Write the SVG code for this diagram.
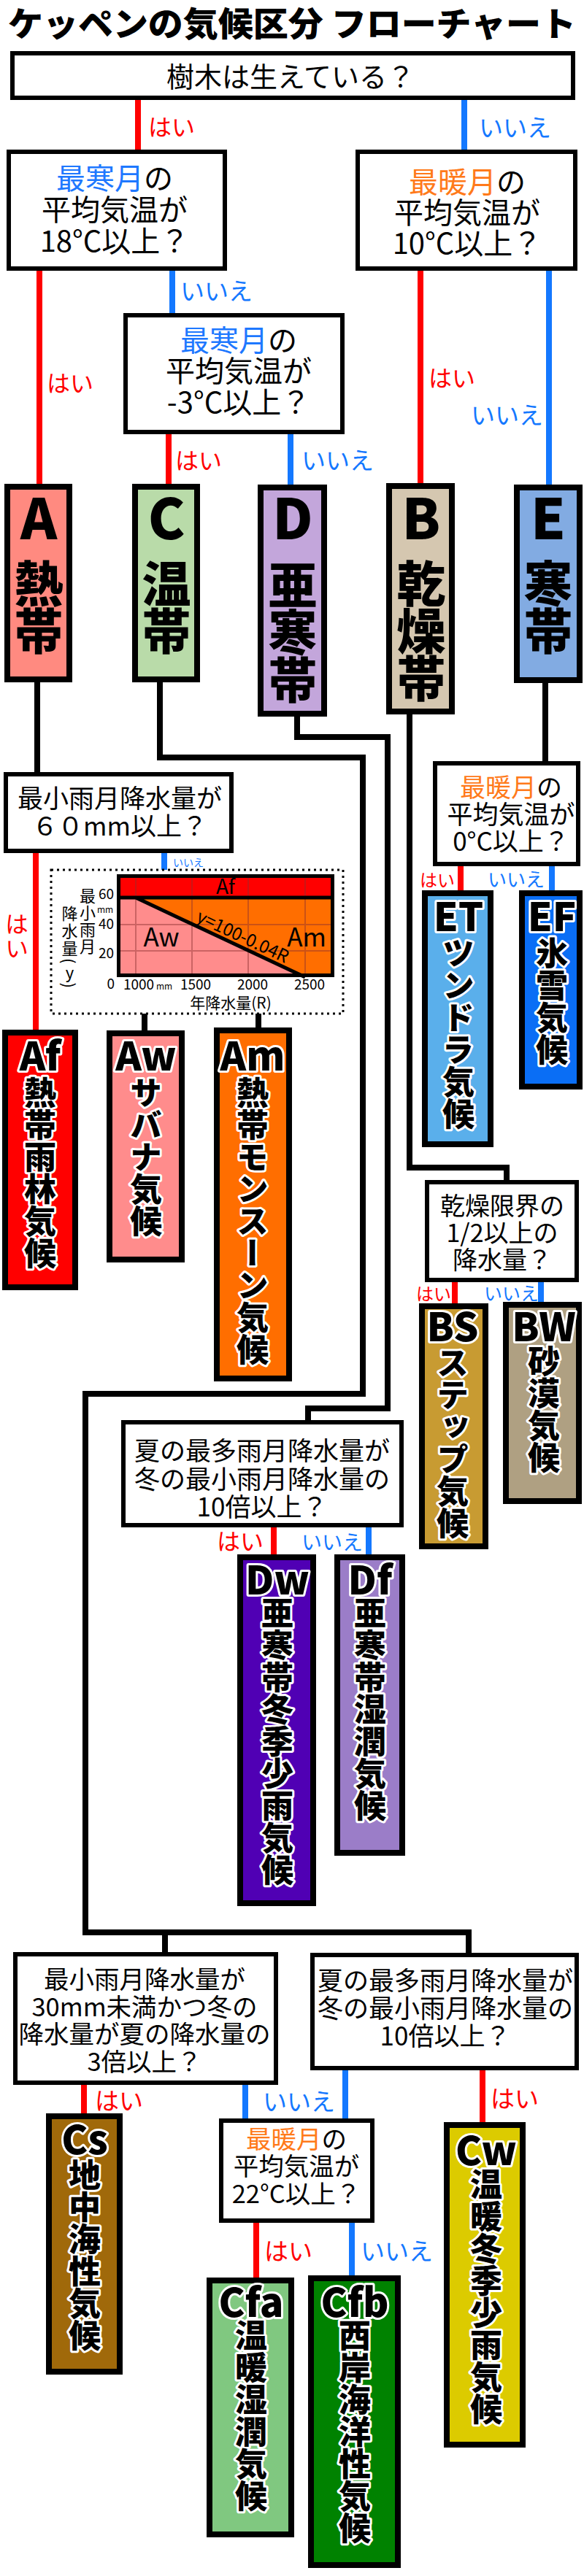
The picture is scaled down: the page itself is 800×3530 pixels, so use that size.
<svg xmlns="http://www.w3.org/2000/svg" width="800" height="3530" viewBox="0 0 800 3530">
<style>
text{font-family:"Noto Sans CJK JP","Noto Sans CJK SC",sans-serif;fill:#000}
.title{font-size:46px;font-weight:900}
.qb{fill:#fff;stroke:#000;stroke-width:6}
.q{font-size:35px;text-anchor:middle}
.q40{font-size:40px}
.q38{font-size:38px}
.q34{font-size:34.5px}
.cold{fill:#1E78FF}
.warm{fill:#FF7A1A}
.yes{fill:#FF0000;font-size:32px}
.no{fill:#1478FF;font-size:33px}
.cb{stroke:#000;stroke-width:8}
.cl{font-size:76px;font-weight:900;text-anchor:middle}
.cv{font-size:67px;font-weight:900;writing-mode:vertical-rl;letter-spacing:-2px}
.sl{font-size:54px;font-weight:900;text-anchor:middle;paint-order:stroke;stroke:#fff;stroke-width:6px;stroke-linejoin:round}
.sv{font-size:44px;font-weight:900;writing-mode:vertical-rl;paint-order:stroke;stroke:#fff;stroke-width:6px;stroke-linejoin:round}
.vt{writing-mode:vertical-rl}
.blk{fill:none;stroke:#000;stroke-width:8}
.red{fill:none;stroke:#FF0000;stroke-width:8}
.blu{fill:none;stroke:#1478FF;stroke-width:8}
.ct{font-size:19px;text-anchor:middle}
.grid{stroke:#8B3030;stroke-opacity:0.45;stroke-width:2;fill:none}
</style>

<text class="title" x="11" y="49" textLength="778" lengthAdjust="spacingAndGlyphs">ケッペンの気候区分 フローチャート</text>

<g id="connectors">
<path class="blk" d="M51 935V1058 M219 935V1038H497V1910H117V2648H642V2676 M226 2648V2675 M407 982V1010H531V1930H422V1946 M561 979V1600H694V1617 M747 936V1043 M198 1389V1412 M354 1389V1408"/>
<path class="red" d="M189 137V205 M54 371V663 M231 595V663 M576 371V662 M49 1169V1411 M631 1187V1220 M623 1757V1786 M375 2093V2130 M115 2857V2896 M661 2837V2908 M351 3046V3121"/>
<path class="blu" d="M636 137V205 M236 371V429 M398 595V664 M752 371V664 M225 1169V1192 M756 1187V1220 M741 1757V1784 M505 2093V2130 M336 2857V2903 M473 2837V2903 M482 3046V3118"/>
<text class="yes" x="203" y="186">はい</text>
<text class="no" x="656" y="187">いいえ</text>
<text class="yes" x="64" y="537">はい</text>
<text class="no" x="247" y="411">いいえ</text>
<text class="yes" x="240" y="643">はい</text>
<text class="no" x="413" y="643">いいえ</text>
<text class="yes" x="587" y="530">はい</text>
<text class="no" x="645" y="581">いいえ</text>
<text class="yes vt" x="23" y="1250" style="letter-spacing:2px">はい</text>
<text class="no" x="237" y="1187" style="font-size:14px">いいえ</text>
<text class="yes" x="575" y="1215" style="font-size:24px">はい</text>
<text class="no" x="668" y="1215" style="font-size:26px">いいえ</text>
<text class="yes" x="570" y="1782" style="font-size:24px">はい</text>
<text class="no" x="663" y="1782" style="font-size:25px">いいえ</text>
<text class="yes" x="297" y="2124">はい</text>
<text class="no" x="413" y="2124" style="font-size:28px">いいえ</text>
<text class="yes" x="130" y="2891" style="font-size:33px">はい</text>
<text class="no" x="360" y="2892">いいえ</text>
<text class="yes" x="672" y="2888" style="font-size:33px">はい</text>
<text class="yes" x="362" y="3097" style="font-size:33px">はい</text>
<text class="no" x="494" y="3097">いいえ</text>
</g>

<g id="q-trees">
<rect class="qb" x="17" y="73" width="768" height="61"/>
<text class="q q38" x="398" y="119">樹木は生えている？</text>
</g>

<g id="q-coldest18">
<rect class="qb" x="12" y="208" width="296" height="160"/>
<text class="q q40"><tspan class="cold" x="157" y="259">最寒月</tspan><tspan>の</tspan><tspan x="157" y="302">平均気温が</tspan><tspan x="157" y="345">18°C以上？</tspan></text>
</g>

<g id="q-warmest10">
<rect class="qb" x="490" y="208" width="298" height="160"/>
<text class="q q40"><tspan class="warm" x="640" y="264">最暖月</tspan><tspan>の</tspan><tspan x="640" y="306">平均気温が</tspan><tspan x="640" y="348">10°C以上？</tspan></text>
</g>

<g id="q-coldest-3">
<rect class="qb" x="172" y="432" width="297" height="160"/>
<text class="q q40"><tspan class="cold" x="327" y="481">最寒月</tspan><tspan>の</tspan><tspan x="327" y="523">平均気温が</tspan><tspan x="327" y="566">-3°C以上？</tspan></text>
</g>

<g id="zone-A">
<rect class="cb" x="10" y="667" width="85" height="264" fill="#FF8A80"/>
<text class="cl" x="53" y="739">A</text>
<text class="cv" x="53" y="766">熱帯</text>
</g>
<g id="zone-C">
<rect class="cb" x="185" y="667" width="85" height="264" fill="#B9DBA9"/>
<text class="cl" x="228" y="739">C</text>
<text class="cv" x="228" y="766">温帯</text>
</g>
<g id="zone-D">
<rect class="cb" x="357" y="668" width="87" height="310" fill="#C3A6DB"/>
<text class="cl" x="401" y="739">D</text>
<text class="cv" x="401" y="768">亜寒帯</text>
</g>
<g id="zone-B">
<rect class="cb" x="533" y="666" width="86" height="309" fill="#D5C7B0"/>
<text class="cl" x="577" y="739">B</text>
<text class="cv" x="577" y="766">乾燥帯</text>
</g>
<g id="zone-E">
<rect class="cb" x="708" y="668" width="86" height="264" fill="#82ABE2"/>
<text class="cl" x="751" y="739">E</text>
<text class="cv" x="751" y="766">寒帯</text>
</g>

<g id="q-driest60">
<rect class="qb" x="8" y="1061" width="309" height="105"/>
<text class="q"><tspan x="164" y="1107">最小雨月降水量が</tspan><tspan x="164" y="1145">６０mm以上？</tspan></text>
</g>

<g id="q-warmest0">
<rect class="qb" x="596" y="1046" width="196" height="138"/>
<text class="q"><tspan class="warm" x="700" y="1092">最暖月</tspan><tspan>の</tspan><tspan x="700" y="1129">平均気温が</tspan><tspan x="700" y="1166">0°C以上？</tspan></text>
</g>

<g id="chart">
<rect x="70" y="1192" width="400" height="197" fill="none" stroke="#000" stroke-width="3" stroke-dasharray="3 5"/>
<polygon points="160,1230 186,1230 418,1339 160,1339" fill="#FF8C8C"/>
<polygon points="186,1230 458,1230 458,1339 418,1339" fill="#FF6E00"/>
<rect x="160" y="1198" width="298" height="32" fill="#FF0000"/>
<path class="grid" d="M186 1198V1339 M263 1198V1339 M340 1198V1339 M418 1198V1339 M160 1267H458 M160 1303H458"/>
<path d="M160 1230H458 M186 1230L418 1339" stroke="#000" stroke-width="5" fill="none"/>
<rect x="162.5" y="1200.5" width="293" height="136" fill="none" stroke="#000" stroke-width="5"/>
<text x="309" y="1225" text-anchor="middle" style="font-size:28px">Af</text>
<text x="221" y="1297" text-anchor="middle" style="font-size:35px">Aw</text>
<text x="420" y="1297" text-anchor="middle" style="font-size:35px">Am</text>
<text x="329" y="1291" text-anchor="middle" style="font-size:24px" transform="rotate(25.2 329 1291)">y=100-0.04R</text>
<text x="156" y="1232" text-anchor="end" style="font-size:19px">60</text>
<text x="156" y="1273" text-anchor="end" style="font-size:19px">40</text>
<text x="156" y="1313" text-anchor="end" style="font-size:19px">20</text>
<text x="157" y="1355" text-anchor="end" style="font-size:19px">0</text>
<text x="144" y="1251" text-anchor="middle" style="font-size:12px">mm</text>
<text class="ct" x="190" y="1356">1000</text>
<text x="225" y="1356" text-anchor="middle" style="font-size:12px">mm</text>
<text class="ct" x="268" y="1356">1500</text>
<text class="ct" x="346" y="1356">2000</text>
<text class="ct" x="424" y="1356">2500</text>
<text x="316" y="1382" text-anchor="middle" style="font-size:21px">年降水量(R)</text>
<text class="vt" x="120" y="1217" style="font-size:22px;letter-spacing:1px">最小雨月</text>
<text class="vt" x="95.5" y="1241" style="font-size:22px;letter-spacing:2px">降水量(<tspan style="text-orientation:upright">y</tspan>)</text>
</g>

<g id="Af">
<rect class="cb" x="7" y="1415" width="96" height="349" fill="#FF0000"/>
<text class="sl" x="55" y="1467">Af</text>
<text class="sv" x="55" y="1475">熱帯雨林気候</text>
</g>
<g id="Aw">
<rect class="cb" x="150" y="1416" width="99" height="310" fill="#FF8C8C"/>
<text class="sl" x="200" y="1467">Aw</text>
<text class="sv" x="200" y="1475">サバナ気候</text>
</g>
<g id="Am">
<rect class="cb" x="297" y="1412" width="99" height="477" fill="#FF6E00"/>
<text class="sl" x="346" y="1467">Am</text>
<text class="sv" x="346" y="1475">熱帯モンスーン気候</text>
</g>

<g id="ET">
<rect class="cb" x="582" y="1224" width="90" height="344" fill="#5AAFEB"/>
<text class="sl" x="628" y="1276">ET</text>
<text class="sv" x="628" y="1284">ツンドラ気候</text>
</g>
<g id="EF">
<rect class="cb" x="715" y="1224" width="79" height="265" fill="#0A6EF5"/>
<text class="sl" x="756" y="1276">EF</text>
<text class="sv" x="756" y="1284">氷雪気候</text>
</g>

<g id="q-dry-limit">
<rect class="qb" x="585" y="1620" width="205" height="134"/>
<text class="q" style="font-size:34px"><tspan x="688" y="1665">乾燥限界の</tspan><tspan x="688" y="1702">1/2以上の</tspan><tspan x="688" y="1739">降水量？</tspan></text>
</g>

<g id="BS">
<rect class="cb" x="578" y="1790" width="87" height="329" fill="#C89B32"/>
<text class="sl" x="620" y="1838">BS</text>
<text class="sv" x="620" y="1845">ステップ気候</text>
</g>
<g id="BW">
<rect class="cb" x="693" y="1788" width="100" height="269" fill="#AFA082"/>
<text class="sl" x="745" y="1838">BW</text>
<text class="sv" x="745" y="1843">砂漠気候</text>
</g>

<g id="q-D-winterdry">
<rect class="qb" x="169" y="1949" width="381" height="141"/>
<text class="q"><tspan x="359" y="2001">夏の最多雨月降水量が</tspan><tspan x="359" y="2040">冬の最小雨月降水量の</tspan><tspan x="359" y="2078">10倍以上？</tspan></text>
</g>

<g id="Dw">
<rect class="cb" x="329" y="2134" width="100" height="474" fill="#5000B4"/>
<text class="sl" x="380" y="2185">Dw</text>
<text class="sv" x="380" y="2188">亜寒帯冬季少雨気候</text>
</g>
<g id="Df">
<rect class="cb" x="462" y="2134" width="89" height="405" fill="#9B7DC8"/>
<text class="sl" x="507" y="2185">Df</text>
<text class="sv" x="507" y="2188">亜寒帯湿潤気候</text>
</g>

<g id="q-C-summerdry">
<rect class="qb" x="21" y="2678" width="357" height="176"/>
<text class="q q34"><tspan x="198" y="2725">最小雨月降水量が</tspan><tspan x="198" y="2763">30mm未満かつ冬の</tspan><tspan x="198" y="2800">降水量が夏の降水量の</tspan><tspan x="198" y="2838">3倍以上？</tspan></text>
</g>

<g id="q-C-winterdry">
<rect class="qb" x="428" y="2679" width="362" height="155"/>
<text class="q"><tspan x="610" y="2727">夏の最多雨月降水量が</tspan><tspan x="610" y="2765">冬の最小雨月降水量の</tspan><tspan x="610" y="2803">10倍以上？</tspan></text>
</g>

<g id="q-warmest22">
<rect class="qb" x="303" y="2906" width="207" height="137"/>
<text class="q q34"><tspan class="warm" x="406" y="2944">最暖月</tspan><tspan>の</tspan><tspan x="406" y="2981">平均気温が</tspan><tspan x="406" y="3019">22°C以上？</tspan></text>
</g>

<g id="Cs">
<rect class="cb" x="67" y="2900" width="97" height="350" fill="#A0690A"/>
<text class="sl" x="116" y="2952">Cs</text>
<text class="sv" x="116" y="2958">地中海性気候</text>
</g>
<g id="Cw">
<rect class="cb" x="612" y="2912" width="104" height="438" fill="#DCCB00"/>
<text class="sl" x="666" y="2967">Cw</text>
<text class="sv" x="666" y="2971">温暖冬季少雨気候</text>
</g>
<g id="Cfa">
<rect class="cb" x="287" y="3125" width="112" height="348" fill="#80C880"/>
<text class="sl" x="344" y="3175">Cfa</text>
<text class="sv" x="344" y="3178">温暖湿潤気候</text>
</g>
<g id="Cfb">
<rect class="cb" x="426" y="3122" width="119" height="393" fill="#008200"/>
<text class="sl" x="486" y="3175">Cfb</text>
<text class="sv" x="486" y="3178">西岸海洋性気候</text>
</g>
</svg>
